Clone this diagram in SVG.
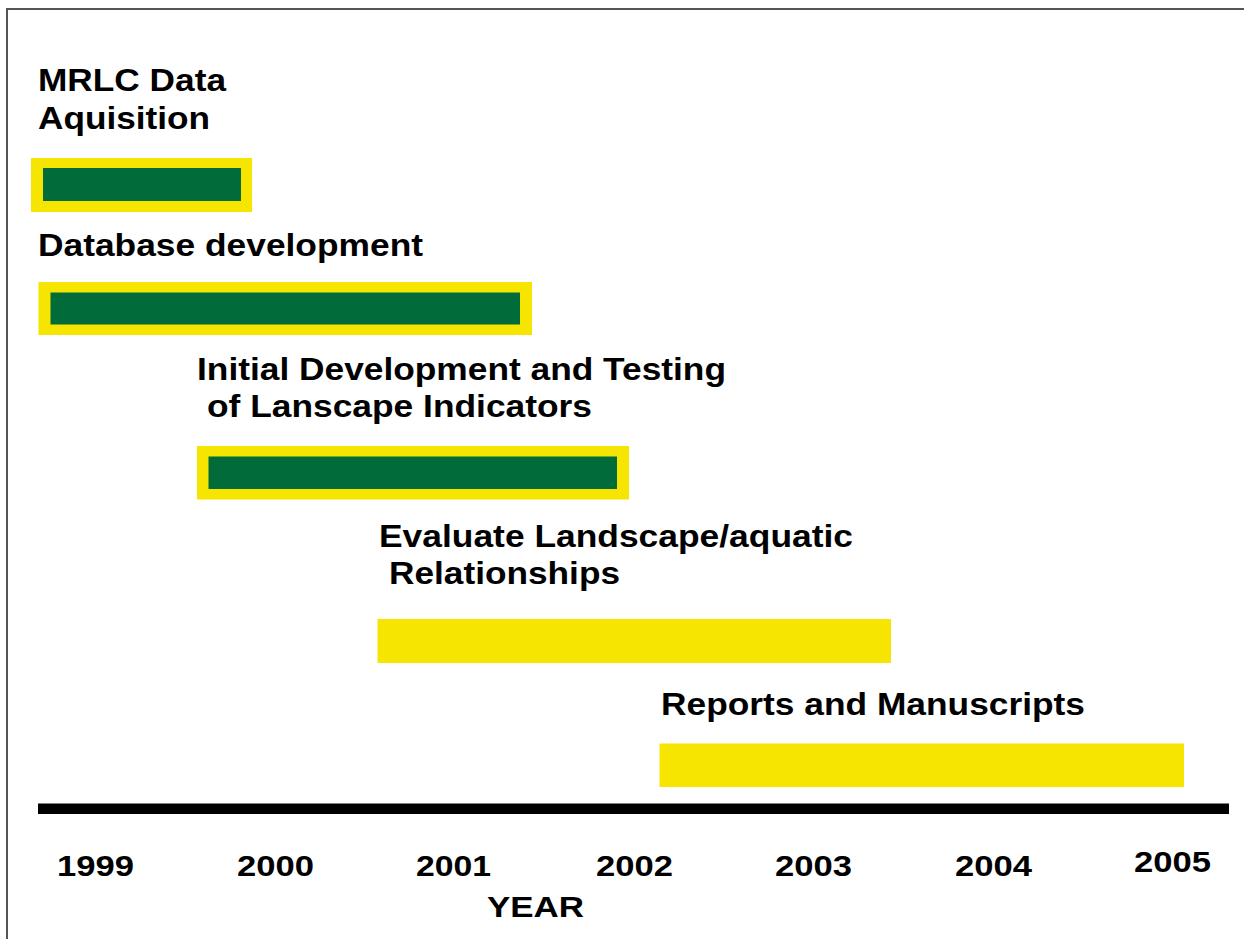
<svg xmlns="http://www.w3.org/2000/svg" width="1244" height="939" viewBox="0 0 1244 939">
<style>
.t{font-family:"Liberation Sans",Arial,Helvetica,sans-serif;font-weight:bold;font-size:32px;fill:#000}
.y{font-family:"Liberation Sans",Arial,Helvetica,sans-serif;font-weight:bold;font-size:30px;fill:#000}
.yel{fill:#F5E500}
.grn{fill:#026B3A}
.frame{stroke:#555;stroke-width:2;fill:none}
</style>
<rect width="1244" height="939" fill="#fff"/>
<path class="frame" d="M7 939 V9 H1244"/>
<g id="task-mrlc">
<text class="t" x="38" y="91" textLength="188" lengthAdjust="spacingAndGlyphs">MRLC Data</text>
<text class="t" x="38" y="129" textLength="172" lengthAdjust="spacingAndGlyphs">Aquisition</text>
<rect class="yel" x="31" y="158" width="221" height="54"/>
<rect class="grn" x="43" y="168" width="198" height="33"/>
</g>
<g id="task-database">
<text class="t" x="38" y="256" textLength="385" lengthAdjust="spacingAndGlyphs">Database development</text>
<rect class="yel" x="38.5" y="282" width="493.5" height="53"/>
<rect class="grn" x="50.5" y="292.5" width="469.5" height="32"/>
</g>
<g id="task-indicators">
<text class="t" x="197" y="380" textLength="529" lengthAdjust="spacingAndGlyphs">Initial Development and Testing</text>
<text class="t" x="207" y="417" textLength="385" lengthAdjust="spacingAndGlyphs">of Lanscape Indicators</text>
<rect class="yel" x="197" y="446" width="432" height="53.5"/>
<rect class="grn" x="208.5" y="456.5" width="408.5" height="32.5"/>
</g>
<g id="task-evaluate">
<text class="t" x="379" y="547" textLength="474" lengthAdjust="spacingAndGlyphs">Evaluate Landscape/aquatic</text>
<text class="t" x="389" y="584" textLength="231" lengthAdjust="spacingAndGlyphs">Relationships</text>
<rect class="yel" x="377.5" y="619" width="513.5" height="44"/>
</g>
<g id="task-reports">
<text class="t" x="661" y="715" textLength="424" lengthAdjust="spacingAndGlyphs">Reports and Manuscripts</text>
<rect class="yel" x="659.5" y="743.5" width="524.5" height="43.5"/>
</g>
<g id="axis">
<rect x="38" y="803.5" width="1191" height="10.5" fill="#000"/>
<text class="y" x="57" y="876" textLength="77" lengthAdjust="spacingAndGlyphs">1999</text>
<text class="y" x="237" y="876" textLength="77" lengthAdjust="spacingAndGlyphs">2000</text>
<text class="y" x="416" y="876" textLength="75" lengthAdjust="spacingAndGlyphs">2001</text>
<text class="y" x="596" y="876" textLength="77" lengthAdjust="spacingAndGlyphs">2002</text>
<text class="y" x="775" y="876" textLength="77" lengthAdjust="spacingAndGlyphs">2003</text>
<text class="y" x="955" y="876" textLength="77" lengthAdjust="spacingAndGlyphs">2004</text>
<text class="y" x="1134" y="872" textLength="77" lengthAdjust="spacingAndGlyphs">2005</text>
<text class="y" x="487" y="917" textLength="97" lengthAdjust="spacingAndGlyphs">YEAR</text>
</g>
<g id="connectors"/>
</svg>
